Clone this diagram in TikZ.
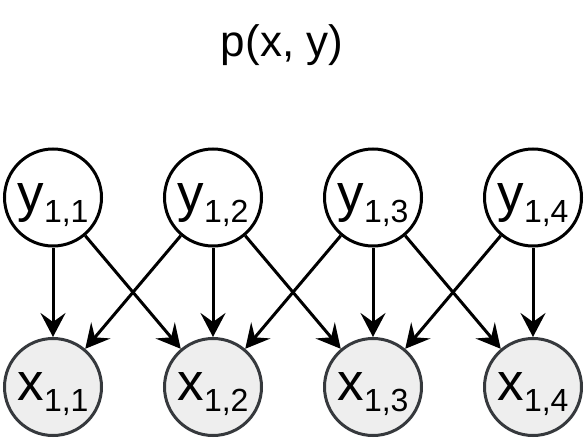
\documentclass[tikz,border=0pt]{standalone}
\usepackage{fontspec}
\setmainfont{Liberation Sans}
\usetikzlibrary{arrows.meta}
\definecolor{xfill}{HTML}{EEEEEE}
\definecolor{xstroke}{HTML}{36393D}
\newcommand\varlbl[2]{{\fontsize{53}{53}\selectfont #1}\raisebox{-11pt}{\fontsize{32}{32}\selectfont #2}}
\begin{document}
\begin{tikzpicture}[x=1pt,y=1pt,
  yv/.style={circle, draw=black, fill=white, line width=3pt, minimum size=97pt, inner sep=0pt, text height=27pt, text depth=0pt},
  xv/.style={yv, draw=xstroke, fill=xfill},
  edge/.style={line width=3pt, -{Stealth[length=24pt,width=25pt,inset=9pt]}},
  ttl/.style={anchor=base, font=\fontsize{44}{44}\selectfont}]
\useasboundingbox (0,0) rectangle (584,440);
\node[ttl] (title) at (282,383) {p(x, y)};
\foreach \i/\cx in {1/53,2/213,3/373,4/533}{
  \node[yv] (y\i) at (\cx,242.5) {\varlbl{y}{1,\i}};
  \node[xv] (x\i) at (\cx,53) {\varlbl{x}{1,\i}};
}
\foreach \a/\b in {1/1,1/2,2/1,2/2,2/3,3/2,3/3,3/4,4/3,4/4}{
  \draw[edge] (y\a) -- (x\b);
}
\end{tikzpicture}
\end{document}
